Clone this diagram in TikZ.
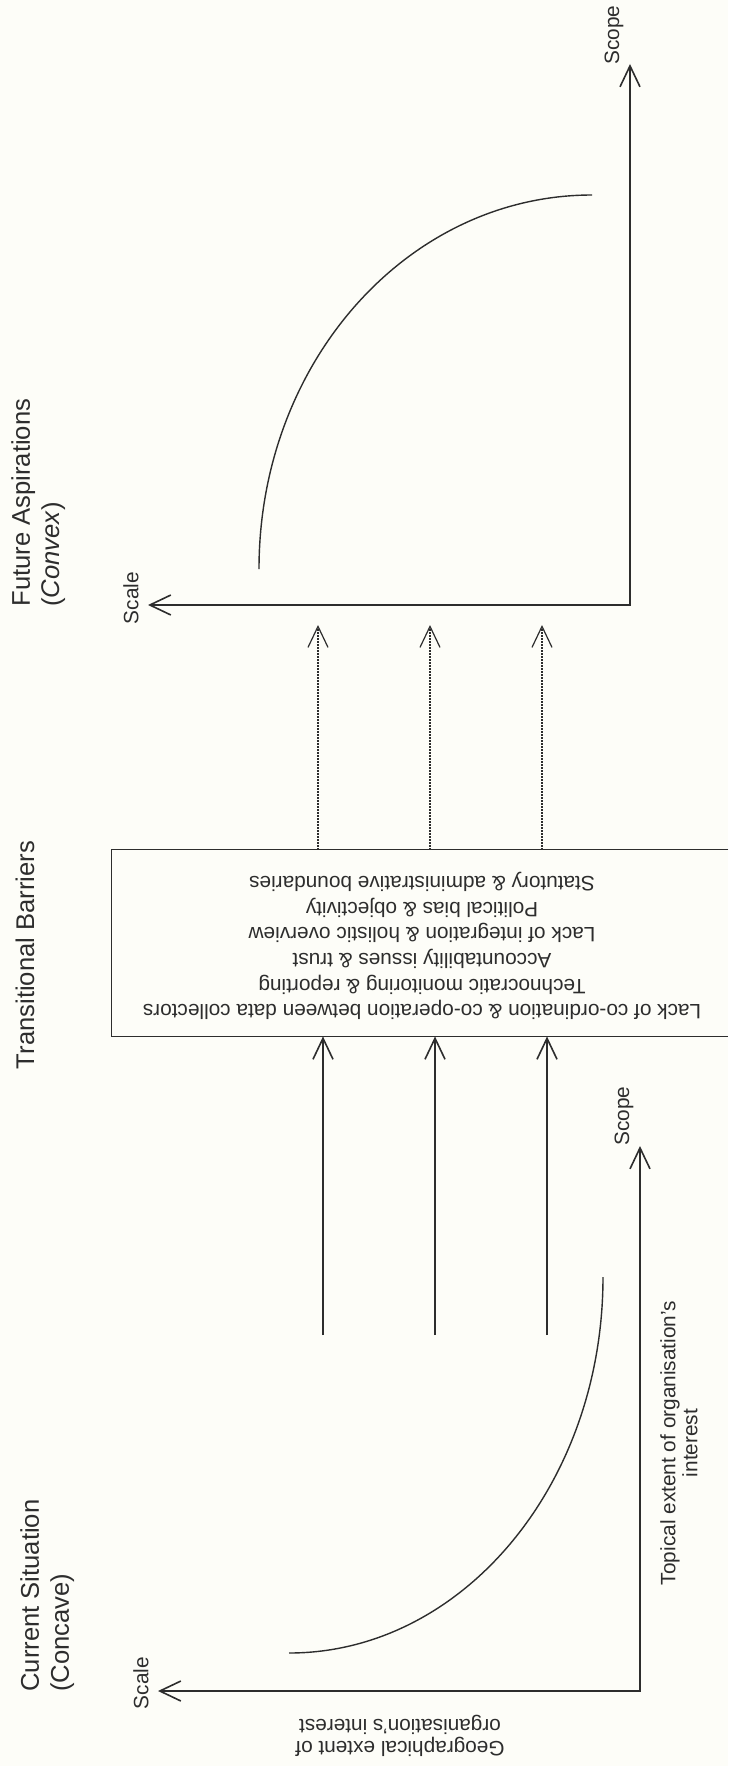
\documentclass[tikz,border=0pt]{standalone}
\usepackage{fontspec}
\setmainfont{Liberation Sans}
\usetikzlibrary{arrows.meta,positioning}
\definecolor{paper}{RGB}{253,253,248}
\definecolor{ink}{RGB}{45,45,45}

\begin{document}
\begin{tikzpicture}[x=0.5pt,y=-0.5pt,font=\fontsize{10.4}{11}\selectfont,color=ink]
  \tikzstyle{axis} = [line width=0.8pt, {Straight Barb[length=10.5pt,width=10pt]}-{Straight Barb[length=10.5pt,width=10pt]}]
  \tikzstyle{arrow} = [line width=0.8pt, -{Straight Barb[length=10.5pt,width=10pt]}]
  \tikzstyle{dotarrow} = [line width=0.6pt, dash pattern=on 0.6pt off 0.9pt, -{Straight Barb[length=10.5pt,width=10pt]}]
  \tikzstyle{curve} = [line width=0.7pt]
  \tikzstyle{title} = [rotate=90, anchor=north west, align=left, inner sep=0pt, font=\fontsize{12.8}{15}\selectfont]
  \tikzstyle{barrier} = [minimum width=308pt, minimum height=93pt, inner sep=0pt]

  \fill [paper] (0,0) rectangle (728,1766);
  \useasboundingbox (0,0) rectangle (728,1766);

  % titles
  \node (futtitle) [title] at (11,607) {Future Aspirations\\(\textit{Convex})};
  \node (bartitle) [rotate=90, font=\fontsize{12.8}{15}\selectfont] at (25,955) {Transitional Barriers};
  \node (curtitle) [title] at (20,1692) {Current Situation\\(Concave)};

  % future aspirations
  \coordinate (uorigin) at (630,605);
  \coordinate (uscopeend) at (630,64);
  \coordinate (uscaleend) at (148,605);
  \draw [axis] (uscaleend) -- (uorigin) -- (uscopeend);
  \node (uscope) [rotate=90] at (614,35) {Scope};
  \node (uscale) [rotate=90] at (131,598) {Scale};
  \coordinate (ustart) at (259,569);
  \coordinate (uend) at (592,195);
  \draw [curve] (ustart) .. controls (259,362) and (408,195) .. (uend);

  % transitional barriers
  \node (box) [barrier] at (420,943) {};
  \draw [line width=0.8pt] (box.north east) -- (box.north west) -- (box.south west) -- (box.south east);
  \node (barriertext) [rotate=180, align=center, font=\fontsize{10.4}{12.8}\selectfont] at (422,946)
    {Lack of co-ordination \& co-operation between data collectors\\
     Technocratic monitoring \& reporting\\
     Accountability issues \& trust\\
     Lack of integration \& holistic overview\\
     Political bias \& objectivity\\
     Statutory \& administrative boundaries};

  \coordinate (d1) at (318,625);
  \coordinate (d2) at (430,625);
  \coordinate (d3) at (542,625);
  \draw [dotarrow] (box.north -| d1) -- (d1);
  \draw [dotarrow] (box.north -| d2) -- (d2);
  \draw [dotarrow] (box.north -| d3) -- (d3);

  \coordinate (s1) at (323,1335);
  \coordinate (s2) at (435,1335);
  \coordinate (s3) at (547,1335);
  \draw [arrow] (s1) -- (s1 |- box.south);
  \draw [arrow] (s2) -- (s2 |- box.south);
  \draw [arrow] (s3) -- (s3 |- box.south);

  % current situation
  \coordinate (lorigin) at (640,1691);
  \coordinate (lscopeend) at (640,1146);
  \coordinate (lscaleend) at (158,1691);
  \draw [axis] (lscaleend) -- (lorigin) -- (lscopeend);
  \node (lscope) [rotate=90] at (624,1116) {Scope};
  \node (lscale) [rotate=90] at (141,1683) {Scale};
  \node (topical) [rotate=90, align=center] at (679,1443) {Topical extent of organisation's\\interest};
  \node (geog) [rotate=180, align=center] at (400,1736) {Geographical extent of\\organisation's interest};
  \coordinate (lstart) at (289,1653);
  \coordinate (lend) at (603,1277);
  \draw [curve] (lstart) .. controls (462,1653) and (603,1485) .. (lend);
\end{tikzpicture}
\end{document}
